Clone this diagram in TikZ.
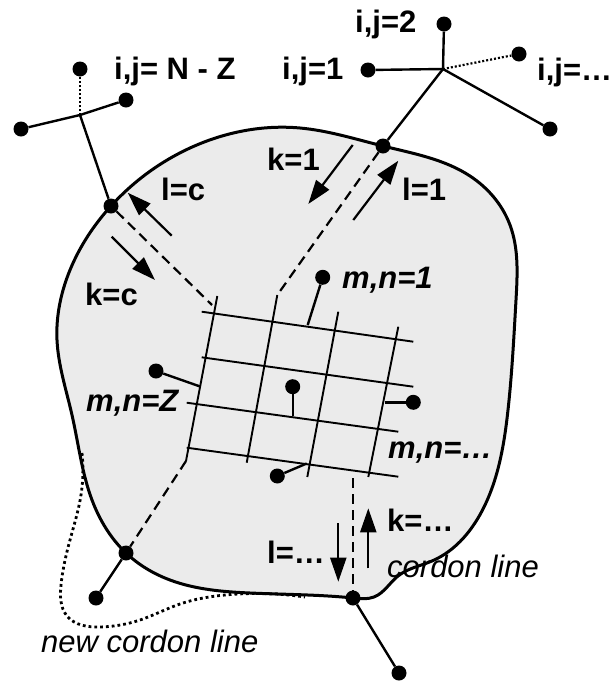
\documentclass[tikz,border=0pt]{standalone}
\usepackage{fontspec}
\setmainfont{Liberation Sans}
\usetikzlibrary{hobby,arrows.meta}
\definecolor{zonegray}{RGB}{235,235,235}
\tikzset{
    zone dot/.style={circle, fill=black, inner sep=0pt, minimum size=15pt},
    zone label/.style={anchor=base west, inner sep=0pt, font=\fontsize{31}{34}\selectfont\bfseries},
    zone math/.style={zone label, font=\fontsize{31}{34}\selectfont\bfseries\itshape},
    zone note/.style={zone label, font=\fontsize{31}{34}\selectfont\itshape},
    cordon/.style={line width=3pt, black},
    link/.style={line width=2.4pt},
    grid line/.style={line width=1.9pt},
    access/.style={line width=2.2pt, dash pattern=on 10pt off 6pt},
    spur/.style={line width=2.2pt, dash pattern=on 2pt off 2pt},
    flow/.style={line width=2.2pt, -{Triangle[length=24pt,width=16pt]}}
}

\begin{document}
\begin{tikzpicture}[x=1pt, y=-1pt, use Hobby shortcut]
\useasboundingbox (0,0) rectangle (616,681);
% study area and cordon line
\draw[cordon, fill=zonegray] ([closed]111,206) .. (190,148) .. (300,128) .. (383,146) .. (470,176)
    .. (510,225) .. (516,300) .. (508,410) .. (485,505) .. (432,561) .. (398,576) .. (374,597)
    .. (353,598) .. (250,593) .. (170,580) .. (126,553) .. (92,500) .. (72,415) .. (57,340)
    .. (70,270) .. (111,206);
% new cordon line
\draw[line width=2.8pt, dash pattern=on 2.8pt off 3pt] (82,453) .. (81,495) .. (70,540)
    .. (61,585) .. (67,616) .. (100,627) .. (140,620) .. (180,604) .. (225,595) .. (305,597);

% zone grid
\foreach \n/\xa/\ya/\xb/\yb in {1/201.7/311.7/413.3/341.7, 2/201.7/357.3/413.3/386.7,
    3/186.7/402.7/398.3/431.7, 4/186.7/447.7/398.3/476.7}
    \draw[grid line] (\xa,\ya) coordinate (row\n-a) -- (\xb,\yb) coordinate (row\n-b);
\foreach \n/\xa/\ya/\xb/\yb in {1/217.3/296/186/461, 2/277.3/295/246.7/462.7,
    3/338.3/311.7/307.3/477, 4/398.3/326.7/368.3/477}
    \draw[grid line] (\xa,\ya) coordinate (col\n-a) -- (\xb,\yb) coordinate (col\n-b);

% zones inside
\node[zone dot] (mn1) at (322.7,277.3) {};
\node[zone dot] (mnZ) at (156,371) {};
\node[zone dot] (mnC) at (292.7,386.7) {};
\node[zone dot] (mnR) at (413.3,402.3) {};
\node[zone dot] (mnB) at (277.3,476) {};
\coordinate (mn1-in) at (307.7,325);
\coordinate (mnZ-in) at (200.7,386.7);
\coordinate (mnC-in) at (292.7,416);
\coordinate (mnR-in) at (385,402.3);
\coordinate (mnB-in) at (306.7,463.5);
\foreach \z in {mn1,mnZ,mnC,mnR,mnB}
    \draw[link] (\z) -- (\z-in);

% cordon crossings
\node[zone dot] (ul) at (111,206) {};
\node[zone dot] (ur) at (383,146) {};
\node[zone dot] (bl) at (126,553) {};
\node[zone dot] (br) at (353,598) {};
\coordinate (ul-in) at (212,305);
\coordinate (br-in) at (353,478);
\draw[access] (ul) -- (ul-in);
\draw[access] (ur) -- (col2-a);
\draw[access] (col1-b) -- (bl);
\draw[access] (br-in) -- (br);

% zones outside
\coordinate (jl) at (80,115);
\node[zone dot] (ulTop) at (80,69) {};
\node[zone dot] (ulLeft) at (21,129) {};
\node[zone dot] (ulRight) at (126,100) {};
\draw[link] (ulLeft) -- (jl) -- (ulRight);
\draw[link] (jl) -- (ul);
\draw[spur] (jl) -- (ulTop);
\coordinate (jr) at (443,69);
\node[zone dot] (urTop) at (444,24) {};
\node[zone dot] (urLeft) at (368,70) {};
\node[zone dot] (urDots) at (519,54) {};
\node[zone dot] (urRight) at (550,129) {};
\draw[link] (urTop) -- (jr) -- (urLeft);
\draw[link] (jr) -- (urRight);
\draw[link] (jr) -- (ur);
\draw[spur] (jr) -- (urDots);
\node[zone dot] (blOut) at (96,598) {};
\node[zone dot] (brOut) at (399,673) {};
\draw[link] (bl) -- (blOut);
\draw[link] (br) -- (brOut);

% flows
\draw[flow] (171.7,235.7) -- (127.7,192.7);
\draw[flow] (111.7,236.7) -- (155,280);
\draw[flow] (352.7,145) -- (308.3,204);
\draw[flow] (353.3,220) -- (398.3,160.7);
\draw[flow] (338.3,523.3) -- (338.3,581.7);
\draw[flow] (368.3,568.3) -- (368.3,508.3);

% labels
\node[zone label] (tNZ) at (114,79) {i,j= N - Z};
\node[zone label] (t1) at (282,79) {i,j=1};
\node[zone label] (t2) at (355,32) {i,j=2};
\node[zone label] (tE) at (537,80) {i,j=…};
\node[zone label] (k1) at (267,170) {k=1};
\node[zone label] (l1) at (402,200) {l=1};
\node[zone label] (lc) at (161,200) {l=c};
\node[zone label] (kc) at (85,305) {k=c};
\node[zone math] (m1) at (342,288) {m,n=1};
\node[zone math] (mZ) at (86,411) {m,n=Z};
\node[zone math] (mE) at (388,458) {m,n=…};
\node[zone label] (kE) at (387,531) {k=…};
\node[zone label] (lE) at (267,563) {l=…};
\node[zone note] (cl) at (387,577) {cordon line};
\node[zone note] (ncl) at (41,652) {new cordon line};
\end{tikzpicture}
\end{document}
